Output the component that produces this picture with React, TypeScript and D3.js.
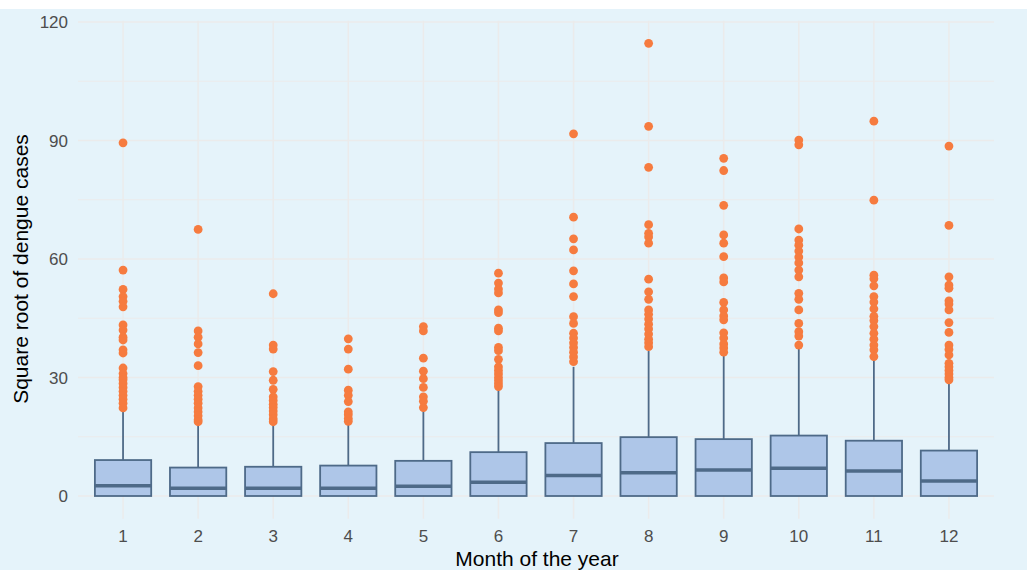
import React from "react";
import * as d3 from "d3";

const months = [1, 2, 3, 4, 5, 6, 7, 8, 9, 10, 11, 12];
const q1 = [0, 0, 0, 0, 0, 0, 0, 0, 0, 0, 0, 0];
const medians = [2.6, 1.95, 1.95, 1.95, 2.5, 3.5, 5.2, 5.9, 6.6, 7.0, 6.3, 3.8];
const q3 = [9.1, 7.2, 7.4, 7.7, 8.9, 11.1, 13.4, 14.9, 14.4, 15.3, 14.0, 11.5];
const whiskerHigh = [21.8, 18.0, 18.2, 18.8, 21.8, 27.3, 32.7, 36.7, 35.9, 37.4, 34.9, 28.4];
const outliers: number[][] = [
  [89.4, 57.2, 52.3, 50.5, 49.3, 47.9, 43.3, 42, 40.2, 39.5, 37, 36.2, 32.4, 31, 30, 29.4, 28.5, 27.5, 26.5, 25.5, 24.5, 23.5, 22.3],
  [67.5, 41.8, 40.2, 38.5, 36.3, 33, 27.7, 26.5, 25.5, 24.5, 23.5, 22.3, 21.3, 20.3, 19.3, 18.8],
  [51.2, 38.2, 37.2, 31.5, 29.3, 27, 25.1, 24.2, 23.2, 22.4, 21.5, 20.6, 19.5, 18.8],
  [39.8, 37.2, 32.1, 26.8, 25.5, 23.9, 21.3, 20.6, 19.6, 18.9],
  [42.9, 41.8, 34.9, 31.6, 29.7, 27.5, 25.1, 24, 22.4],
  [56.4, 53.9, 52.4, 51.4, 47.1, 46.4, 42.5, 41.8, 37.6, 36.8, 34.6, 32.7, 31.8, 30.9, 30, 29.2, 28.4, 27.7],
  [91.7, 70.6, 65.1, 62.3, 57, 53.7, 50.5, 45.4, 43.7, 41.2, 40, 38.8, 37.6, 36.4, 35.2, 34],
  [114.6, 93.6, 83.2, 68.7, 66.5, 65.6, 64, 54.9, 51.7, 49.8, 47.1, 46, 44.8, 43.5, 42.3, 41, 39.7, 38.8, 37.8],
  [85.5, 82.4, 73.6, 66.1, 64, 60.6, 55.2, 54.2, 49, 47.1, 45.6, 44.6, 41.3, 40, 38.5, 37.5, 36.4],
  [90.1, 88.9, 67.6, 64.8, 63.5, 62, 60.5, 59, 57.2, 55.5, 51.3, 49.8, 47.1, 43.7, 41.6, 40.5, 38.2],
  [94.9, 74.9, 55.9, 55, 53.2, 50.5, 49.1, 47.4, 45.5, 44.4, 42.9, 41.2, 39.7, 38.2, 37, 35.3],
  [88.6, 68.5, 55.5, 53.4, 52.6, 49.4, 48.6, 47.1, 43.9, 41.4, 38.2, 37.1, 35.7, 33.6, 32.7, 31.8, 30.9, 30, 29.4],
];
const yTicks = [0, 30, 60, 90, 120];
const yMinor = [15, 45, 75, 105];

const W = 1027;
const H = 570;
const FONT = "'Liberation Sans', Arial, Helvetica, sans-serif";

export default function App() {
  const x = d3.scaleLinear().domain([0.4, 12.6]).range([78, 994]);
  const y = d3.scaleLinear().domain([0, 120]).range([496, 22]);
  const plotTop = y(120.3);
  const plotBottom = y(-5.73);
  const boxW = (x(2) - x(1)) * 0.75;
  const grid = "#EBEBEB";
  const boxStroke = "#4E6A88";
  return (
    <svg width={W} height={H} style={{ position: "absolute", left: 0, top: 0, display: "block" }}>
      <rect x={0} y={9} width={W} height={H - 9} fill="#E5F3FA" />
      {yMinor.map((v) => (
        <line key={"mn" + v} x1={78} x2={994} y1={y(v)} y2={y(v)} stroke={grid} strokeWidth={1.2} />
      ))}
      {yTicks.map((v) => (
        <line key={"mj" + v} x1={78} x2={994} y1={y(v)} y2={y(v)} stroke={grid} strokeWidth={1.5} />
      ))}
      {months.map((m) => (
        <line key={"vx" + m} x1={x(m)} x2={x(m)} y1={plotTop} y2={plotBottom} stroke={grid} strokeWidth={1.5} />
      ))}
      {yTicks.map((v) => (
        <text key={"yt" + v} x={68} y={y(v)} dy="0.36em" textAnchor="end" fontSize={17} fill="#4D4D4D" fontFamily={FONT}>
          {v}
        </text>
      ))}
      {months.map((m) => (
        <text key={"xt" + m} x={x(m)} y={542} textAnchor="middle" fontSize={17} fill="#4D4D4D" fontFamily={FONT}>
          {m}
        </text>
      ))}
      {months.map((m, i) => {
        const cx = x(m);
        return (
          <g key={"box" + m}>
            <line x1={cx} x2={cx} y1={y(q3[i])} y2={y(whiskerHigh[i])} stroke={boxStroke} strokeWidth={1.8} />
            <rect
              x={cx - boxW / 2}
              y={y(q3[i])}
              width={boxW}
              height={y(q1[i]) - y(q3[i])}
              fill="#AEC6E8"
              stroke={boxStroke}
              strokeWidth={1.8}
            />
            <line x1={cx - boxW / 2} x2={cx + boxW / 2} y1={y(medians[i])} y2={y(medians[i])} stroke={boxStroke} strokeWidth={3.5} />
            {outliers[i].map((v, j) => (
              <circle key={j} cx={cx} cy={y(v)} r={4.4} fill="#F67B3F" />
            ))}
          </g>
        );
      })}
      <text x={537} y={566} textAnchor="middle" fontSize={21} fill="#000" fontFamily={FONT}>
        Month of the year
      </text>
      <text
        transform={`translate(28, ${(y(120) + y(0)) / 2 + 10}) rotate(-90)`}
        textAnchor="middle"
        fontSize={21}
        fill="#000"
        fontFamily={FONT}
      >
        Square root of dengue cases
      </text>
    </svg>
  );
}
